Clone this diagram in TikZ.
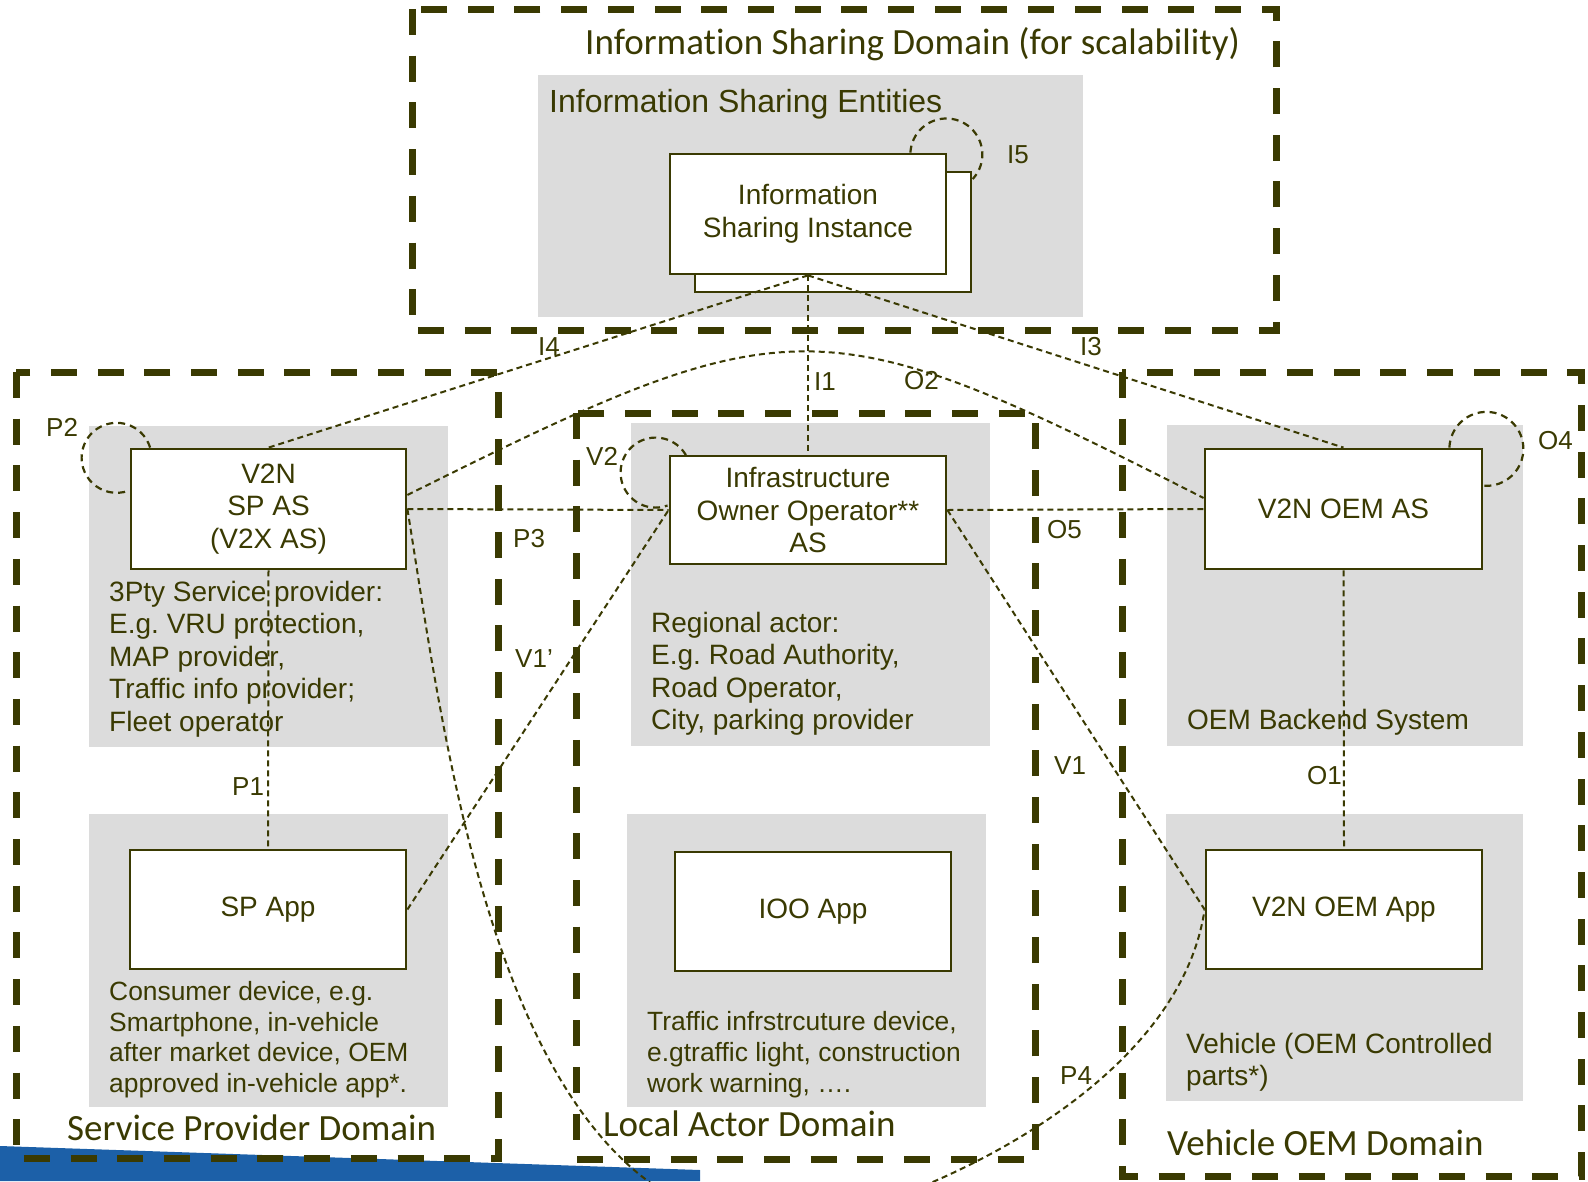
\documentclass[tikz,border=0pt]{standalone}
\usepackage{fontspec}
\setmainfont{Liberation Sans}
\newfontfamily\domfont[Ligatures=NoCommon]{Carlito}
\usetikzlibrary{calc}
\definecolor{ink}{RGB}{58,58,2}
\definecolor{panel}{RGB}{220,220,220}
\definecolor{band}{RGB}{28,96,168}
\newcommand\fsz[2]{\fontsize{#1}{#2}\selectfont}
\frenchspacing

\begin{document}
\begin{tikzpicture}[x=1pt,y=-1pt,
  domainframe/.style={draw=ink,line width=7pt,dash pattern=on 26pt off 20.7pt},
  panelbox/.style={fill=panel},
  unit/.style={draw=ink,line width=2.8pt,fill=white,inner sep=0pt,align=center,
    text=ink,font=\fsz{28}{32.5}},
  txt/.style={anchor=base west,inner sep=0pt,text=ink,font=\fsz{28}{28}},
  smalltxt/.style={anchor=base west,inner sep=0pt,text=ink,font=\fsz{26.4}{26.4}},
  tag/.style={anchor=base west,inner sep=0pt,text=ink,font=\fsz{26}{26}},
  dtitle/.style={anchor=base west,inner sep=0pt,text=ink,font=\domfont\fsz{37}{37}},
  link/.style={draw=ink,line width=2pt,dash pattern=on 6pt off 4pt},
  selfloop/.style={draw=ink,line width=2.2pt,dash pattern=on 7pt off 5pt}]

\useasboundingbox (0,0) rectangle (1588,1181);

% blue band along the lower edge
\fill[band] (0,1146) -- (700,1170) -- (700,1181) -- (0,1181) -- cycle;

% grey entity panels
\fill[panelbox] (538,75) rectangle (1083,317);
\fill[panelbox] (89,426) rectangle (448,747);
\fill[panelbox] (89,814) rectangle (448,1107);
\fill[panelbox] (631,423) rectangle (990,746);
\fill[panelbox] (627,814) rectangle (986,1107);
\fill[panelbox] (1167,425) rectangle (1523,746);
\fill[panelbox] (1166,814) rectangle (1523,1101);

% domain frames
\draw[domainframe] (412,9) rectangle (1276,330);
\draw[domainframe] (16,372) rectangle (498,1158);
\draw[domainframe] (576,413) rectangle (1035,1159);
\draw[domainframe] (1122,372) rectangle (1581,1176);

% domain and panel titles
\node[dtitle] (tisd) at (585,54) {Information Sharing Domain (for scalability)};
\node[dtitle] (tspd) at (67,1140) {Service Provider Domain};
\node[dtitle] (tlad) at (603,1136) {Local Actor Domain};
\node[dtitle] (tvod) at (1167,1155) {Vehicle OEM Domain};
\node[anchor=base west,inner sep=0pt,text=ink,font=\fsz{32}{32}] (tise) at (549,112) {Information Sharing Entities};

% descriptions
\node[txt] (sp1) at (109,601) {3Pty Service provider:};
\node[txt] (sp2) at (109,633.5) {E.g. VRU protection,};
\node[txt] (sp3) at (109,666) {MAP provider,};
\node[txt] (sp4) at (109,698.5) {Traffic info provider;};
\node[txt] (sp5) at (109,731) {Fleet operator};

\node[smalltxt] (cd1) at (109,1000) {Consumer device, e.g.};
\node[smalltxt] (cd2) at (109,1031) {Smartphone, in-vehicle};
\node[smalltxt] (cd3) at (109,1061.5) {after market device, OEM};
\node[smalltxt] (cd4) at (109,1092) {approved in-vehicle app*.};

\node[txt] (ra1) at (651,632) {Regional actor:};
\node[txt] (ra2) at (651,664.5) {E.g. Road Authority,};
\node[txt] (ra3) at (651,697) {Road Operator,};
\node[txt] (ra4) at (651,729.5) {City, parking provider};

\node[smalltxt] (ti1) at (647,1030) {Traffic infrstrcuture device,};
\node[smalltxt] (ti2) at (647,1061) {e.gtraffic light, construction};
\node[smalltxt] (ti3) at (647,1092) {work warning, ….};

\node[txt] (ob1) at (1187,729) {OEM Backend System};
\node[txt] (vh1) at (1186,1053) {Vehicle (OEM Controlled};
\node[txt] (vh2) at (1186,1085) {parts*)};

% functional entities
\node[unit,minimum width=276pt,minimum height=120pt] (isiback) at (833,232) {};
\node[unit,minimum width=276pt,minimum height=120pt] (isi) at (808,214) {Information\\Sharing Instance};
\node[unit,minimum width=275pt,minimum height=120pt] (spas) at (268.5,509) {V2N\\SP AS\\(V2X AS)};
\node[unit,minimum width=276pt,minimum height=119pt] (spapp) at (268,909.5) {SP App};
\node[unit,minimum width=276pt,minimum height=108pt] (iooas) at (808,510) {Infrastructure\\Owner Operator**\\AS};
\node[unit,minimum width=276pt,minimum height=119pt] (iooapp) at (813,911.5) {IOO App};
\node[unit,minimum width=277pt,minimum height=120pt] (oemas) at (1343.5,509) {V2N OEM AS};
\node[unit,minimum width=276pt,minimum height=119pt] (oemapp) at (1344,909.5) {V2N OEM App};

% reference points
\draw[link] (isi.south) -- (spas.north);
\draw[link] (isi.south) -- (iooas.north);
\draw[link] (isi.south) -- (oemas.north);
\draw[link] (spas.south) -- (spapp.north);
\draw[link] (spas.east) -- (iooas.west);
\draw[link] (iooas.east) -- (oemas.west);
\draw[link] (oemas.south) -- (oemapp.north);
\draw[link] (spapp.east) -- (iooas.west);
\draw[link] (iooas.east) -- (oemapp.west);
\draw[link] ($(spas.east)+(0,-14)$) .. controls (793,303) and (820,303) .. ($(oemas.west)+(0,-11)$);
\draw[link] (spas.east) .. controls (445,740) and (500,1225) .. (780,1225)
  .. controls (860,1225) and (1175,1110) .. (oemapp.west);

% self reference loops
\draw[selfloop] ($(spas.north west)+(20.5,0)$) arc[start angle=-17,end angle=-290,radius=35];
\draw[selfloop] ($(isi.north east)+(-37,0)$) arc[start angle=183,end angle=403,radius=36];
\draw[selfloop] ($(iooas.north west)+(17.3,0.5)$) arc[start angle=-30,end angle=-290,radius=35];
\draw[selfloop] ($(oemas.north east)+(-34,0)$) arc[start angle=182,end angle=455,radius=37];

% reference point names
\node[tag] (lp2) at (46,436) {P2};
\node[tag] (li5) at (1007,163) {I5};
\node[tag] (li4) at (538,355) {I4};
\node[tag] (li1) at (814,390) {I1};
\node[tag] (lo2) at (904,389) {O2};
\node[tag] (li3) at (1080,355) {I3};
\node[tag] (lv2) at (586,465) {V2};
\node[tag] (lo5) at (1047,538) {O5};
\node[tag] (lp3) at (513,547) {P3};
\node[tag] (lv1p) at (515,667) {V1’};
\node[tag] (lv1) at (1054,774) {V1};
\node[tag] (lp4) at (1060,1084) {P4};
\node[tag] (lp1) at (232,795) {P1};
\node[tag] (lo1) at (1307,784) {O1};
\node[tag] (lo4) at (1538,449) {O4};

\end{tikzpicture}
\end{document}
